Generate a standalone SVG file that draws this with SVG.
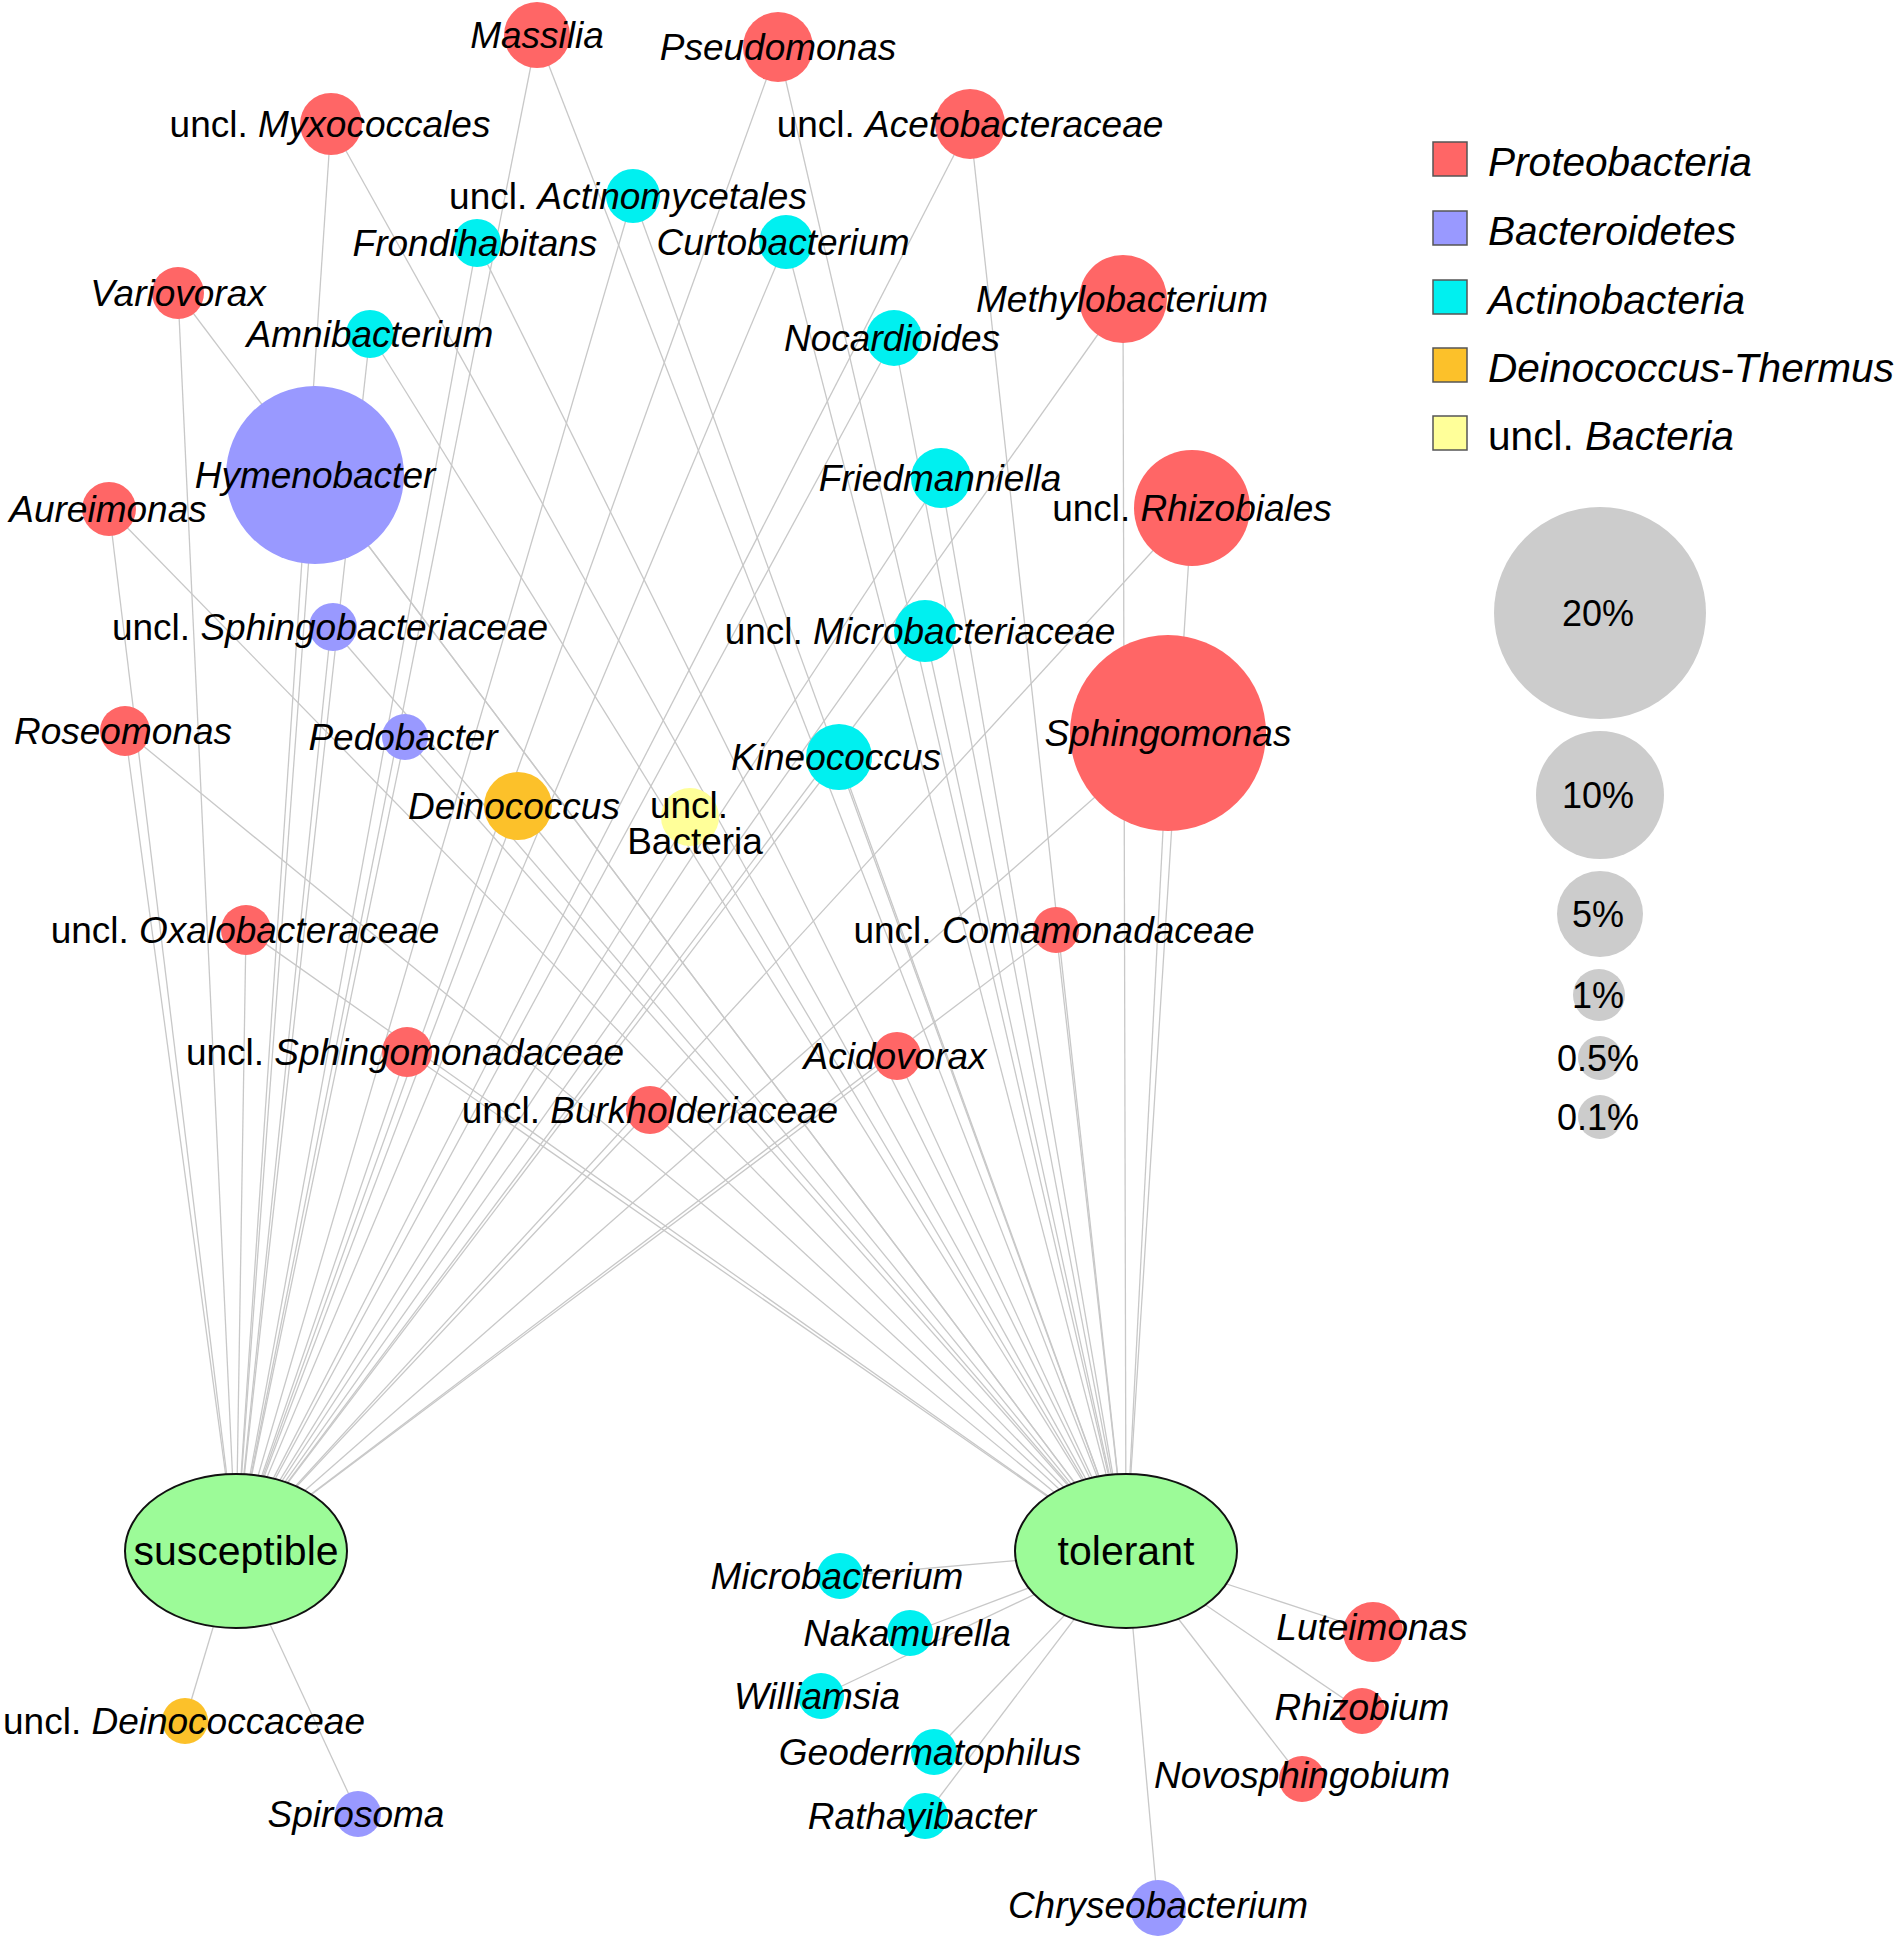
<svg xmlns="http://www.w3.org/2000/svg" width="1900" height="1940" viewBox="0 0 1900 1940">
<style>
.e{stroke:#c8c8c8;stroke-width:1.3;fill:none}
.pr{fill:#ff6666}
.bc{fill:#9999ff}
.ac{fill:#00f0f0}
.dt{fill:#fcc12a}
.ub{fill:#ffff99}
.grp{fill:#9cfb98;stroke:#111;stroke-width:2}
.sz{fill:#cccccc}
text{font-family:"Liberation Sans",Arial,sans-serif;fill:#000}
.l{font-size:37px;text-anchor:middle}
.g{font-size:41px;text-anchor:middle}
.p{font-size:36px;text-anchor:middle}
.lg{font-size:40.6px}
.i{font-style:italic}
.sq{stroke:#555;stroke-width:1.5}
</style>
<rect width="1900" height="1940" fill="#ffffff"/>
<g id="connectors">
<line class="e" x1="537" y1="35" x2="236" y2="1551"/><line class="e" x1="537" y1="35" x2="1126" y2="1551"/>
<line class="e" x1="778" y1="47" x2="236" y2="1551"/><line class="e" x1="778" y1="47" x2="1126" y2="1551"/>
<line class="e" x1="331" y1="124" x2="236" y2="1551"/><line class="e" x1="331" y1="124" x2="1126" y2="1551"/>
<line class="e" x1="970" y1="124" x2="236" y2="1551"/><line class="e" x1="970" y1="124" x2="1126" y2="1551"/>
<line class="e" x1="633" y1="196" x2="236" y2="1551"/><line class="e" x1="633" y1="196" x2="1126" y2="1551"/>
<line class="e" x1="477" y1="243" x2="236" y2="1551"/><line class="e" x1="477" y1="243" x2="1126" y2="1551"/>
<line class="e" x1="786" y1="242" x2="236" y2="1551"/><line class="e" x1="786" y1="242" x2="1126" y2="1551"/>
<line class="e" x1="178" y1="293" x2="236" y2="1551"/><line class="e" x1="178" y1="293" x2="1126" y2="1551"/>
<line class="e" x1="370" y1="334" x2="236" y2="1551"/><line class="e" x1="370" y1="334" x2="1126" y2="1551"/>
<line class="e" x1="894" y1="338" x2="236" y2="1551"/><line class="e" x1="894" y1="338" x2="1126" y2="1551"/>
<line class="e" x1="1123" y1="299" x2="236" y2="1551"/><line class="e" x1="1123" y1="299" x2="1126" y2="1551"/>
<line class="e" x1="315" y1="475" x2="236" y2="1551"/><line class="e" x1="315" y1="475" x2="1126" y2="1551"/>
<line class="e" x1="109" y1="509" x2="236" y2="1551"/><line class="e" x1="109" y1="509" x2="1126" y2="1551"/>
<line class="e" x1="941" y1="478" x2="236" y2="1551"/><line class="e" x1="941" y1="478" x2="1126" y2="1551"/>
<line class="e" x1="1192" y1="508" x2="236" y2="1551"/><line class="e" x1="1192" y1="508" x2="1126" y2="1551"/>
<line class="e" x1="331" y1="627" x2="236" y2="1551"/><line class="e" x1="331" y1="627" x2="1126" y2="1551"/>
<line class="e" x1="925" y1="631" x2="236" y2="1551"/><line class="e" x1="925" y1="631" x2="1126" y2="1551"/>
<line class="e" x1="1168" y1="733" x2="236" y2="1551"/><line class="e" x1="1168" y1="733" x2="1126" y2="1551"/>
<line class="e" x1="125" y1="731" x2="236" y2="1551"/><line class="e" x1="125" y1="731" x2="1126" y2="1551"/>
<line class="e" x1="405" y1="737" x2="236" y2="1551"/><line class="e" x1="405" y1="737" x2="1126" y2="1551"/>
<line class="e" x1="839" y1="757" x2="236" y2="1551"/><line class="e" x1="839" y1="757" x2="1126" y2="1551"/>
<line class="e" x1="518" y1="806" x2="236" y2="1551"/><line class="e" x1="518" y1="806" x2="1126" y2="1551"/>
<line class="e" x1="690" y1="817" x2="236" y2="1551"/><line class="e" x1="690" y1="817" x2="1126" y2="1551"/>
<line class="e" x1="246" y1="930" x2="236" y2="1551"/><line class="e" x1="246" y1="930" x2="1126" y2="1551"/>
<line class="e" x1="1056" y1="930" x2="236" y2="1551"/><line class="e" x1="1056" y1="930" x2="1126" y2="1551"/>
<line class="e" x1="407" y1="1052" x2="236" y2="1551"/><line class="e" x1="407" y1="1052" x2="1126" y2="1551"/>
<line class="e" x1="897" y1="1056" x2="236" y2="1551"/><line class="e" x1="897" y1="1056" x2="1126" y2="1551"/>
<line class="e" x1="650" y1="1110" x2="236" y2="1551"/><line class="e" x1="650" y1="1110" x2="1126" y2="1551"/>
<line class="e" x1="185" y1="1721" x2="236" y2="1551"/>
<line class="e" x1="358" y1="1814" x2="236" y2="1551"/>
<line class="e" x1="840" y1="1576" x2="1126" y2="1551"/>
<line class="e" x1="910" y1="1633" x2="1126" y2="1551"/>
<line class="e" x1="821" y1="1696" x2="1126" y2="1551"/>
<line class="e" x1="934" y1="1752" x2="1126" y2="1551"/>
<line class="e" x1="925" y1="1816" x2="1126" y2="1551"/>
<line class="e" x1="1373" y1="1632" x2="1126" y2="1551"/>
<line class="e" x1="1362" y1="1711" x2="1126" y2="1551"/>
<line class="e" x1="1302" y1="1779" x2="1126" y2="1551"/>
<line class="e" x1="1158" y1="1908" x2="1126" y2="1551"/>
</g>
<g id="n-massilia"><circle class="pr" cx="537" cy="35" r="33"/><text class="l i" x="537" y="48">Massilia</text></g>
<g id="n-pseudomonas"><circle class="pr" cx="778" cy="47" r="35"/><text class="l i" x="778" y="60">Pseudomonas</text></g>
<g id="n-myxococcales"><circle class="pr" cx="331" cy="124" r="31"/><text class="l" x="330" y="137">uncl. <tspan class="i">Myxococcales</tspan></text></g>
<g id="n-acetobacteraceae"><circle class="pr" cx="970" cy="124" r="35"/><text class="l" x="970" y="137">uncl. <tspan class="i">Acetobacteraceae</tspan></text></g>
<g id="n-actinomycetales"><circle class="ac" cx="633" cy="196" r="27"/><text class="l" x="628" y="209">uncl. <tspan class="i">Actinomycetales</tspan></text></g>
<g id="n-frondihabitans"><circle class="ac" cx="477" cy="243" r="24"/><text class="l i" x="475" y="256">Frondihabitans</text></g>
<g id="n-curtobacterium"><circle class="ac" cx="786" cy="242" r="27"/><text class="l i" x="783" y="255">Curtobacterium</text></g>
<g id="n-variovorax"><circle class="pr" cx="178" cy="293" r="26"/><text class="l i" x="178" y="306">Variovorax</text></g>
<g id="n-amnibacterium"><circle class="ac" cx="370" cy="334" r="24"/><text class="l i" x="370" y="347">Amnibacterium</text></g>
<g id="n-nocardioides"><circle class="ac" cx="894" cy="338" r="28"/><text class="l i" x="892" y="351">Nocardioides</text></g>
<g id="n-methylobacterium"><circle class="pr" cx="1123" cy="299" r="44"/><text class="l i" x="1122" y="312">Methylobacterium</text></g>
<g id="n-hymenobacter"><circle class="bc" cx="315" cy="475" r="89"/><text class="l i" x="315" y="488">Hymenobacter</text></g>
<g id="n-aureimonas"><circle class="pr" cx="109" cy="509" r="27"/><text class="l i" x="108" y="522">Aureimonas</text></g>
<g id="n-friedmanniella"><circle class="ac" cx="941" cy="478" r="30"/><text class="l i" x="940" y="491">Friedmanniella</text></g>
<g id="n-rhizobiales"><circle class="pr" cx="1192" cy="508" r="58"/><text class="l" x="1192" y="521">uncl. <tspan class="i">Rhizobiales</tspan></text></g>
<g id="n-sphingobacteriaceae"><circle class="bc" cx="333" cy="627" r="24"/><text class="l" x="330" y="640">uncl. <tspan class="i">Sphingobacteriaceae</tspan></text></g>
<g id="n-microbacteriaceae"><circle class="ac" cx="925" cy="631" r="31"/><text class="l" x="920" y="644">uncl. <tspan class="i">Microbacteriaceae</tspan></text></g>
<g id="n-sphingomonas"><circle class="pr" cx="1168" cy="733" r="98"/><text class="l i" x="1168" y="746">Sphingomonas</text></g>
<g id="n-roseomonas"><circle class="pr" cx="125" cy="731" r="25"/><text class="l i" x="123" y="744">Roseomonas</text></g>
<g id="n-pedobacter"><circle class="bc" cx="405" cy="737" r="23"/><text class="l i" x="403" y="750">Pedobacter</text></g>
<g id="n-kineococcus"><circle class="ac" cx="839" cy="757" r="33"/><text class="l i" x="836" y="770">Kineococcus</text></g>
<g id="n-deinococcus"><circle class="dt" cx="518" cy="806" r="34"/><text class="l i" x="514" y="819">Deinococcus</text></g>
<g id="n-uncl-bacteria"><circle class="ub" cx="690" cy="817" r="29"/><text class="l" x="689" y="818">uncl.</text><text class="l" x="695" y="854">Bacteria</text></g>
<g id="n-oxalobacteraceae"><circle class="pr" cx="246" cy="930" r="25"/><text class="l" x="245" y="943">uncl. <tspan class="i">Oxalobacteraceae</tspan></text></g>
<g id="n-comamonadaceae"><circle class="pr" cx="1056" cy="930" r="23"/><text class="l" x="1054" y="943">uncl. <tspan class="i">Comamonadaceae</tspan></text></g>
<g id="n-sphingomonadaceae"><circle class="pr" cx="407" cy="1052" r="25"/><text class="l" x="405" y="1065">uncl. <tspan class="i">Sphingomonadaceae</tspan></text></g>
<g id="n-acidovorax"><circle class="pr" cx="897" cy="1056" r="24"/><text class="l i" x="895" y="1069">Acidovorax</text></g>
<g id="n-burkholderiaceae"><circle class="pr" cx="650" cy="1110" r="24"/><text class="l" x="650" y="1123">uncl. <tspan class="i">Burkholderiaceae</tspan></text></g>
<g id="n-susceptible"><ellipse class="grp" cx="236" cy="1551" rx="111" ry="77"/><text class="g" x="236" y="1565">susceptible</text></g>
<g id="n-tolerant"><ellipse class="grp" cx="1126" cy="1551" rx="111" ry="77"/><text class="g" x="1126" y="1565">tolerant</text></g>
<g id="n-deinococcaceae"><circle class="dt" cx="185" cy="1721" r="23"/><text class="l" x="184" y="1734">uncl. <tspan class="i">Deinococcaceae</tspan></text></g>
<g id="n-spirosoma"><circle class="bc" cx="358" cy="1814" r="23"/><text class="l i" x="356" y="1827">Spirosoma</text></g>
<g id="n-microbacterium"><circle class="ac" cx="840" cy="1576" r="23"/><text class="l i" x="837" y="1589">Microbacterium</text></g>
<g id="n-nakamurella"><circle class="ac" cx="910" cy="1633" r="23"/><text class="l i" x="907" y="1646">Nakamurella</text></g>
<g id="n-williamsia"><circle class="ac" cx="821" cy="1696" r="23"/><text class="l i" x="817" y="1709">Williamsia</text></g>
<g id="n-geodermatophilus"><circle class="ac" cx="934" cy="1752" r="23"/><text class="l i" x="930" y="1765">Geodermatophilus</text></g>
<g id="n-rathayibacter"><circle class="ac" cx="925" cy="1816" r="23"/><text class="l i" x="922" y="1829">Rathayibacter</text></g>
<g id="n-luteimonas"><circle class="pr" cx="1373" cy="1632" r="30"/><text class="l i" x="1372" y="1640">Luteimonas</text></g>
<g id="n-rhizobium"><circle class="pr" cx="1362" cy="1711" r="23"/><text class="l i" x="1362" y="1720">Rhizobium</text></g>
<g id="n-novosphingobium"><circle class="pr" cx="1302" cy="1779" r="23"/><text class="l i" x="1302" y="1788">Novosphingobium</text></g>
<g id="n-chryseobacterium"><circle class="bc" cx="1158" cy="1908" r="28"/><text class="l i" x="1158" y="1918">Chryseobacterium</text></g>
<g id="legend">
<rect class="pr sq" x="1433" y="142" width="34" height="34"/><text class="lg i" x="1488" y="176">Proteobacteria</text>
<rect class="bc sq" x="1433" y="211" width="34" height="34"/><text class="lg i" x="1488" y="245">Bacteroidetes</text>
<rect class="ac sq" x="1433" y="280" width="34" height="34"/><text class="lg i" x="1488" y="314">Actinobacteria</text>
<rect class="dt sq" x="1433" y="348" width="34" height="34"/><text class="lg i" x="1488" y="382">Deinococcus-Thermus</text>
<rect class="ub sq" x="1433" y="416" width="34" height="34"/><text class="lg" x="1488" y="450">uncl. <tspan class="i">Bacteria</tspan></text>
</g>
<g id="size-legend">
<circle class="sz" cx="1600" cy="613" r="106"/><text class="p" x="1598" y="626">20%</text>
<circle class="sz" cx="1600" cy="795" r="64"/><text class="p" x="1598" y="808">10%</text>
<circle class="sz" cx="1600" cy="914" r="43"/><text class="p" x="1598" y="927">5%</text>
<circle class="sz" cx="1599" cy="995" r="26"/><text class="p" x="1598" y="1008">1%</text>
<circle class="sz" cx="1600" cy="1058" r="22"/><text class="p" x="1598" y="1071">0.5%</text>
<circle class="sz" cx="1600" cy="1117" r="22"/><text class="p" x="1598" y="1130">0.1%</text>
</g>
</svg>
